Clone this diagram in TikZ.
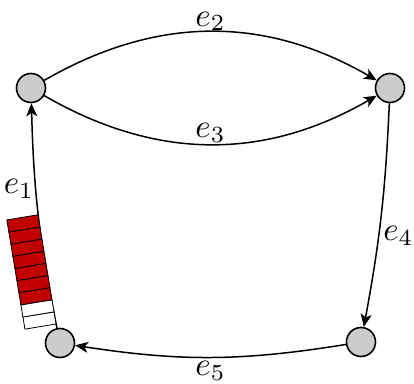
\documentclass[tikz,border=0pt]{standalone}
\usepackage{graphicx}
\usetikzlibrary{arrows.meta}
\definecolor{qred}{RGB}{192,0,0}
\definecolor{vgray}{RGB}{204,204,204}
\newcommand{\biglbl}[1]{\scalebox{3.3}{$#1$}}
\begin{document}
\begin{tikzpicture}[x=1pt,y=1pt,
  vert/.style={circle,draw=black,fill=vgray,line width=1.6pt,minimum size=29pt,inner sep=0pt},
  conn/.style={line width=1.5pt,-{Stealth[length=13pt,width=11pt,inset=3.5pt]}},
  lbl/.style={inner sep=1pt},
  cell/.style={draw=black,line width=0.8pt}]
\useasboundingbox (0,0) rectangle (414,383);
\node[vert] (A) at (31,295) {};
\node[vert] (B) at (390,295) {};
\node[vert] (C) at (361,41) {};
\node[vert] (D) at (60,40) {};
\draw[conn] (A) to[bend left=30] node[lbl,midway,above,yshift=-1pt] {\biglbl{e_2}} (B);
\draw[conn] (A) to[bend right=30] node[lbl,midway,above] {\biglbl{e_3}} (B);
\draw[conn] (B) to[bend left=4] node[lbl,pos=0.6,right,xshift=3pt] {\biglbl{e_4}} (C);
\draw[conn] (C) to[bend left=9] node[lbl,midway,below,yshift=-2pt] {\biglbl{e_5}} (D);
\draw[conn] (D) to[bend left=5] node[lbl,pos=0.63,left] {\biglbl{e_1}} (A);
\begin{scope}[shift={(56,59)},rotate=9.4]
  \foreach \i in {0,1} {
    \draw[cell,fill=white] (-31.5,{\i*12.3}) rectangle (0,{(\i+1)*12.3});
  }
  \foreach \i in {2,...,8} {
    \draw[cell,fill=qred] (-31.5,{\i*12.3}) rectangle (0,{(\i+1)*12.3});
  }
\end{scope}
\end{tikzpicture}
\end{document}
